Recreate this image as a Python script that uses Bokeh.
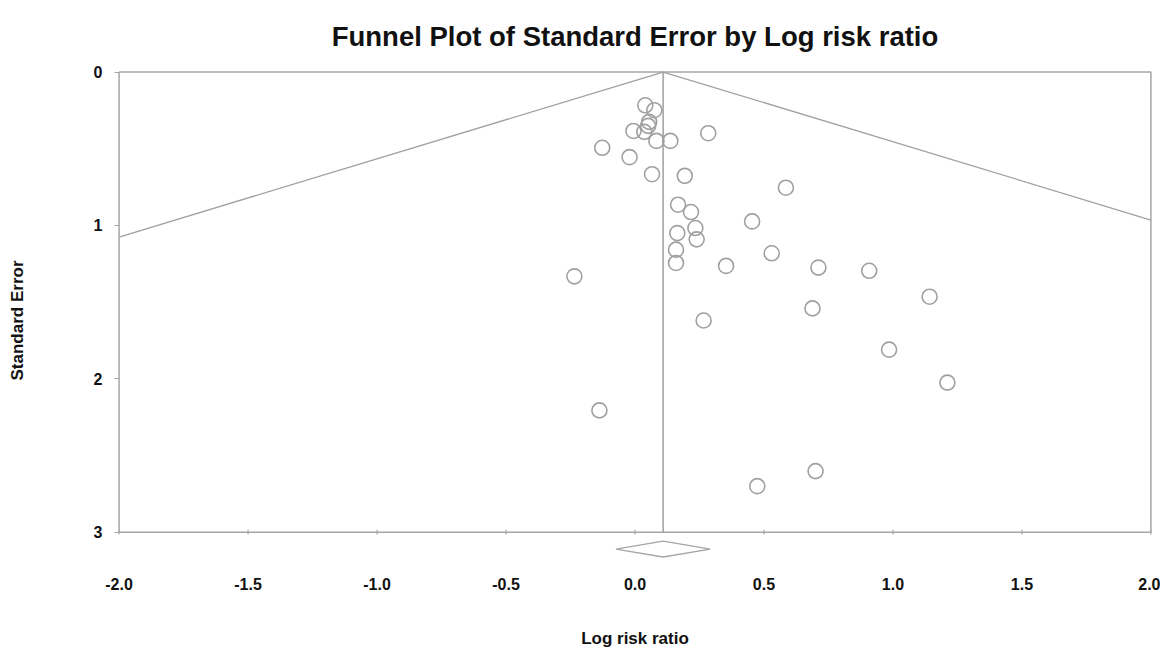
from bokeh.plotting import figure
from bokeh.models import Range1d, FixedTicker, PrintfTickFormatter
from bokeh.embed import file_html
from bokeh.resources import INLINE

# Study data: log risk ratio and standard error
log_rr = [0.040, 0.075, 0.055, 0.051, -0.006, 0.036, 0.083, 0.137, 0.284, -0.127,
          -0.021, 0.066, 0.193, 0.585, 0.167, 0.217, 0.454, 0.234, 0.164, 0.239,
          0.159, 0.159, 0.530, 0.353, -0.235, 0.266, 0.711, 0.908, 1.142, 0.688,
          0.985, 1.211, -0.138, 0.700, 0.474]
std_err = [0.217, 0.249, 0.325, 0.351, 0.384, 0.390, 0.449, 0.449, 0.399, 0.494,
           0.555, 0.666, 0.677, 0.754, 0.865, 0.913, 0.974, 1.017, 1.050, 1.091,
           1.158, 1.245, 1.182, 1.264, 1.332, 1.620, 1.275, 1.296, 1.465, 1.541,
           1.810, 2.025, 2.206, 2.602, 2.700]

summary = 0.109
summary_half_width = 0.183
diamond_y = 3.11
diamond_half_h = 0.052
z = 1.96

x_ticks = [-2.0, -1.5, -1.0, -0.5, 0.0, 0.5, 1.0, 1.5, 2.0]
y_ticks = [0, 1, 2, 3]
x_min, x_max = -2.0, 2.0
se_max = 3.0
title_text = "Funnel Plot of Standard Error by Log risk ratio"

GREY = "#a6a6a6"
FONT = "Liberation Sans"

p = figure(width=1160, height=650, output_backend="svg", toolbar_location=None,
           x_range=Range1d(-2.01, 2.01), y_range=Range1d(3.25, -0.01),
           min_border_left=116, min_border_right=7, min_border_top=70, min_border_bottom=79)
p.outline_line_color = None
p.grid.visible = False
p.background_fill_color = "white"
p.border_fill_color = "white"

p.title.text = title_text
p.title.align = "center"
p.title.vertical_align = "top"
p.title.text_font = FONT
p.title.text_font_size = "27.5px"
p.title.text_font_style = "bold"
p.title.text_color = "#111111"
p.title.standoff = 34
p.title.offset = -7

# Box
p.line([x_min, x_max, x_max, x_min, x_min], [0, 0, se_max, se_max, 0],
       line_color=GREY, line_width=1.5)

# bottom tick marks on the box
p.segment(x0=x_ticks, y0=[se_max - 0.015] * len(x_ticks), x1=x_ticks,
          y1=[se_max + 0.015] * len(x_ticks), line_color=GREY, line_width=1.2)

# Funnel lines
left_se = (summary - x_min) / z
right_se = (x_max - summary) / z
p.line([x_min, summary, x_max], [left_se, 0, right_se], line_color="#a0a0a0", line_width=1.3)
p.line([summary, summary], [0, se_max], line_color="#a0a0a0", line_width=1.5)

# Studies
p.scatter(log_rr, std_err, marker="circle", size=15, fill_color=None,
          line_color="#a0a0a0", line_width=1.6)

# Summary diamond
p.patch([summary - summary_half_width, summary, summary + summary_half_width, summary],
        [diamond_y, diamond_y - diamond_half_h, diamond_y, diamond_y + diamond_half_h],
        fill_color="white", line_color="#a6a6a6", line_width=1.3)

# Axes
xa = p.xaxis[0]
xa.ticker = FixedTicker(ticks=x_ticks)
xa.formatter = PrintfTickFormatter(format="%.1f")
xa.axis_line_color = None
xa.major_tick_line_color = None
xa.minor_tick_line_color = None
xa.major_tick_out = 0
xa.major_tick_in = 0
xa.major_label_standoff = 7
xa.major_label_text_font = FONT
xa.major_label_text_font_size = "16px"
xa.major_label_text_font_style = "bold"
xa.major_label_text_color = "#111111"
xa.axis_label = "Log risk ratio"
xa.axis_label_text_font = FONT
xa.axis_label_text_font_size = "17px"
xa.axis_label_text_font_style = "bold"
xa.axis_label_text_color = "#111111"
xa.axis_label_standoff = 36

ya = p.yaxis[0]
ya.ticker = FixedTicker(ticks=y_ticks)
ya.axis_line_color = None
ya.major_tick_line_color = GREY
ya.minor_tick_line_color = None
ya.major_tick_out = 2
ya.major_tick_in = 3
ya.major_label_standoff = 12
ya.major_label_text_font = FONT
ya.major_label_text_font_size = "16px"
ya.major_label_text_font_style = "bold"
ya.major_label_text_color = "#111111"
ya.axis_label = "Standard Error"
ya.axis_label_text_font = FONT
ya.axis_label_text_font_size = "17px"
ya.axis_label_text_font_style = "bold"
ya.axis_label_text_color = "#111111"
ya.axis_label_standoff = 64

open("out.html", "w").write(file_html(p, INLINE))
